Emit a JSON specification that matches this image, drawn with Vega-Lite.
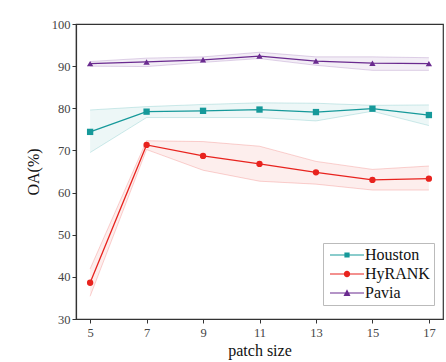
{
  "$schema": "https://vega.github.io/schema/vega-lite/v6.json",
  "width": 367,
  "height": 295,
  "autosize": "none",
  "padding": {"left": 76, "top": 24, "right": 3, "bottom": 43},
  "background": "white",
  "config": {
    "view": {"stroke": "#333", "strokeWidth": 1.2},
    "font": "'Liberation Serif', 'Times New Roman', serif",
    "axis": {"labelFont": "'Liberation Serif', 'Times New Roman', serif", "titleFont": "'Liberation Serif', 'Times New Roman', serif", "labelFontSize": 12.5, "labelColor": "#444", "titleFontSize": 16, "titleFontWeight": "normal", "titleColor": "#111", "grid": false, "domainColor": "#333", "tickColor": "#333", "tickSize": 4, "domainWidth": 1.2},
    "legend": {"labelFont": "'Liberation Serif', 'Times New Roman', serif"}
  },
  "data": {"values": [
    {"series": "Houston", "x": 5, "mean": 74.4, "lo": 69.5, "hi": 79.6},
    {"series": "Houston", "x": 7, "mean": 79.2, "lo": 77.8, "hi": 80.4},
    {"series": "Houston", "x": 9, "mean": 79.4, "lo": 77.8, "hi": 80.9},
    {"series": "Houston", "x": 11, "mean": 79.7, "lo": 77.8, "hi": 81.3},
    {"series": "Houston", "x": 13, "mean": 79.1, "lo": 77.0, "hi": 81.2},
    {"series": "Houston", "x": 15, "mean": 79.9, "lo": 79.3, "hi": 80.7},
    {"series": "Houston", "x": 17, "mean": 78.4, "lo": 75.9, "hi": 80.8},
    {"series": "HyRANK", "x": 5, "mean": 38.6, "lo": 35.4, "hi": 41.9},
    {"series": "HyRANK", "x": 7, "mean": 71.3, "lo": 70.2, "hi": 72.3},
    {"series": "HyRANK", "x": 9, "mean": 68.7, "lo": 65.3, "hi": 72.1},
    {"series": "HyRANK", "x": 11, "mean": 66.8, "lo": 62.7, "hi": 71.0},
    {"series": "HyRANK", "x": 13, "mean": 64.8, "lo": 62.0, "hi": 67.4},
    {"series": "HyRANK", "x": 15, "mean": 63.0, "lo": 60.6, "hi": 65.5},
    {"series": "HyRANK", "x": 17, "mean": 63.3, "lo": 60.6, "hi": 66.3},
    {"series": "Pavia", "x": 5, "mean": 90.6, "lo": 90.0, "hi": 91.1},
    {"series": "Pavia", "x": 7, "mean": 91.0, "lo": 89.9, "hi": 91.9},
    {"series": "Pavia", "x": 9, "mean": 91.5, "lo": 90.9, "hi": 92.2},
    {"series": "Pavia", "x": 11, "mean": 92.4, "lo": 91.8, "hi": 93.3},
    {"series": "Pavia", "x": 13, "mean": 91.2, "lo": 90.2, "hi": 92.2},
    {"series": "Pavia", "x": 15, "mean": 90.7, "lo": 89.0, "hi": 92.2},
    {"series": "Pavia", "x": 17, "mean": 90.6, "lo": 89.0, "hi": 92.0}
  ]},
  "encoding": {
    "x": {"field": "x", "type": "quantitative", "scale": {"domain": [4.5, 17.5], "nice": false, "zero": false}, "axis": {"values": [5, 7, 9, 11, 13, 15, 17], "title": "patch size", "labelPadding": 3, "titlePadding": 4}},
    "y": {"field": "mean", "type": "quantitative", "scale": {"domain": [30, 100], "nice": false, "zero": false}, "axis": {"values": [30, 40, 50, 60, 70, 80, 90, 100], "title": "OA(%)", "labelPadding": 2, "titlePadding": 10}},
    "color": {"field": "series", "type": "nominal", "scale": {"domain": ["Houston", "HyRANK", "Pavia"], "range": ["#16999a", "#e8231e", "#6a2a8f"]}, "legend": null}
  },
  "resolve": {"scale": {"color": "independent", "shape": "independent"}, "legend": {"color": "independent", "shape": "independent"}},
  "layer": [
    {
      "mark": {"type": "area", "opacity": 0.08},
      "encoding": {
        "y": {"field": "lo", "type": "quantitative"},
        "y2": {"field": "hi"}
      }
    },
    {
      "mark": {"type": "line", "opacity": 0.25, "strokeWidth": 0.8},
      "encoding": {"y": {"field": "lo", "type": "quantitative"}}
    },
    {
      "mark": {"type": "line", "opacity": 0.25, "strokeWidth": 0.8},
      "encoding": {"y": {"field": "hi", "type": "quantitative"}}
    },
    {
      "mark": {"type": "line", "strokeWidth": 1.3},
      "encoding": {}
    },
    {
      "mark": {"type": "point", "filled": true, "opacity": 1, "size": 40},
      "encoding": {
        "shape": {"field": "series", "type": "nominal", "scale": {"domain": ["Houston", "HyRANK", "Pavia"], "range": ["square", "circle", "triangle-up"]}, "legend": null}
      }
    },
    {
      "mark": {"type": "point", "filled": true, "opacity": 0, "size": 10},
      "encoding": {
        "color": {"field": "series", "type": "nominal", "scale": {"domain": ["Houston", "HyRANK", "Pavia"], "range": ["#16999a", "#e8231e", "#6a2a8f"]}, "legend": {
          "title": null, "orient": "none", "legendX": 247, "legendY": 219,
          "strokeColor": "#bbb", "fillColor": "white", "padding": 4,
          "labelFont": "'Liberation Serif', 'Times New Roman', serif", "labelFontSize": 16, "labelColor": "#111",
          "labelOffset": 10, "symbolOffset": 12, "rowPadding": 3, "symbolSize": 64, "symbolOpacity": 1, "symbolStrokeWidth": 0}},
        "shape": {"field": "series", "type": "nominal", "scale": {"domain": ["Houston", "HyRANK", "Pavia"], "range": [
          "M-4.25,-0.15H4.25V0.15H-4.25ZM-0.65,-0.65H0.65V0.65H-0.65Z",
          "M-4.25,-0.15H4.25V0.15H-4.25ZM-0.8,0A0.8,0.8 0 1,1 0.8,0A0.8,0.8 0 1,1 -0.8,0Z",
          "M-4.25,-0.15H4.25V0.15H-4.25ZM0,-0.95L0.875,0.75L-0.875,0.75Z"]}, "legend": {
          "title": null, "orient": "none", "legendX": 247, "legendY": 219,
          "strokeColor": "#bbb", "fillColor": "white", "padding": 4,
          "labelFont": "'Liberation Serif', 'Times New Roman', serif", "labelFontSize": 16, "labelColor": "#111",
          "labelOffset": 10, "symbolOffset": 12, "rowPadding": 3, "symbolSize": 64, "symbolOpacity": 1, "symbolStrokeWidth": 0}}
      }
    }
  ]
}
